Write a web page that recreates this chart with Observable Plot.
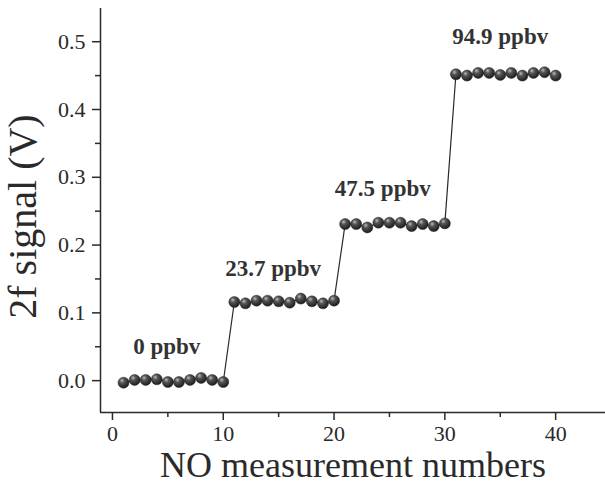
<!DOCTYPE html>
<html><head><meta charset="utf-8">
<script src="https://cdn.jsdelivr.net/npm/d3@7"></script>
<script src="https://cdn.jsdelivr.net/npm/@observablehq/plot@0.6"></script>
<style>body{margin:0;background:#fff}</style>
</head><body><div id="chart"></div>
<script>
const measurement = [1,2,3,4,5,6,7,8,9,10,11,12,13,14,15,16,17,18,19,20,21,22,23,24,25,26,27,28,29,30,31,32,33,34,35,36,37,38,39,40];
const signal = [
  -0.003, 0.001, 0.001, 0.002, -0.002, -0.002, 0.001, 0.004, 0.001, -0.002,
  0.116, 0.114, 0.118, 0.118, 0.117, 0.115, 0.121, 0.117, 0.114, 0.118,
  0.231, 0.231, 0.226, 0.233, 0.233, 0.233, 0.228, 0.231, 0.228, 0.232,
  0.452, 0.450, 0.454, 0.454, 0.451, 0.454, 0.450, 0.454, 0.455, 0.450
];
const labelText = ["0 ppbv", "23.7 ppbv", "47.5 ppbv", "94.9 ppbv"];
const labelX = [4.9, 14.5, 24.4, 35.0];
const labelY = [0.050, 0.165, 0.283, 0.507];
const xTicks = [0, 10, 20, 30, 40];
const xMinor = [5, 15, 25, 35];
const yTicks = [0, 0.1, 0.2, 0.3, 0.4, 0.5];
const yMinor = [0.05, 0.15, 0.25, 0.35, 0.45];
const xTitle = "NO measurement numbers";
const yTitle = "2f signal (V)";
const xDomain = [-1.08, 44.5];
const yDomain = [-0.047, 0.549];

const data = measurement.map((m, i) => ({m, v: signal[i]}));
const labels = labelText.map((t, i) => ({t, x: labelX[i], y: labelY[i]}));
const ink = "#2a2a2a";
const font = "Liberation Serif, Times New Roman, serif";

const chart = Plot.plot({
  width: 605, height: 486,
  marginLeft: 100, marginRight: 0, marginTop: 8, marginBottom: 74,
  style: {fontFamily: font, fontSize: "22px", color: ink, background: "#fff"},
  x: {domain: xDomain},
  y: {domain: yDomain},
  marks: [
    Plot.ruleX([xDomain[0]], {stroke: ink, strokeWidth: 1.5}),
    Plot.ruleY([yDomain[0]], {stroke: ink, strokeWidth: 1.5}),
    Plot.axisX({ticks: xTicks, tickFormat: d => d, tickSize: 8, tickPadding: 5, label: null, fontSize: 22, stroke: ink, strokeWidth: 1.5, fill: ink}),
    Plot.axisX({ticks: xMinor, tickSize: 5, text: null, label: null, stroke: ink, strokeWidth: 1.5}),
    Plot.axisY({ticks: yTicks, tickFormat: d3.format(".1f"), tickSize: 8, tickPadding: 7, label: null, fontSize: 22, stroke: ink, strokeWidth: 1.5, fill: ink}),
    Plot.axisY({ticks: yMinor, tickSize: 5, text: null, label: null, stroke: ink, strokeWidth: 1.5}),
    Plot.line(data, {x: "m", y: "v", stroke: ink, strokeWidth: 1.2}),
    Plot.dot(data, {x: "m", y: "v", r: 5.5, fill: "url(#ball)", stroke: "#222", strokeWidth: 0.5}),
    Plot.text(labels, {x: "x", y: "y", text: "t", fontSize: 23, fontWeight: "bold", fill: "#333", textAnchor: "middle", lineAnchor: "middle"}),
    Plot.text([xTitle], {frameAnchor: "bottom", dy: 53, fontSize: 36, fill: ink, textAnchor: "middle", lineAnchor: "middle"}),
    Plot.text([yTitle], {frameAnchor: "left", dx: -77, dy: 6, rotate: -90, fontSize: 40, fill: ink, textAnchor: "middle", lineAnchor: "middle"})
  ]
});

const svg = d3.select(chart);
const defs = svg.insert("defs", ":first-child");
const g = defs.append("radialGradient").attr("id", "ball").attr("cx", "0.4").attr("cy", "0.35").attr("r", "0.65").attr("fx", "0.35").attr("fy", "0.3");
g.append("stop").attr("offset", "0").attr("stop-color", "#bdbdbd");
g.append("stop").attr("offset", "0.35").attr("stop-color", "#555");
g.append("stop").attr("offset", "1").attr("stop-color", "#1c1c1c");

document.getElementById("chart").appendChild(chart);
</script>
</body></html>
